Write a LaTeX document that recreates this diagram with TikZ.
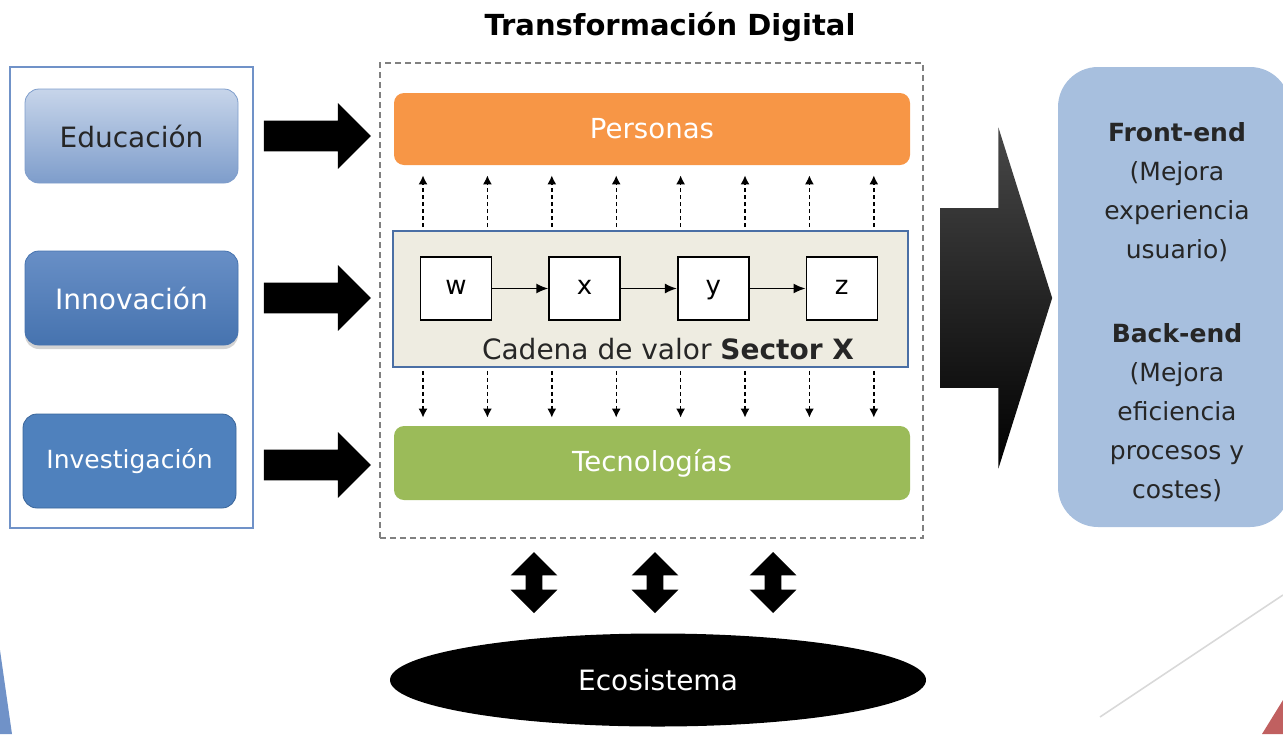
\documentclass[tikz,border=0pt]{standalone}
\usepackage{fontspec}
\setmainfont{DejaVu Sans}
\usepackage{xcolor}
\usepackage{tikz}
\usetikzlibrary{
  shapes.geometric,
  shapes.arrows,
  arrows.meta,
  positioning,
  shadows
}
\definecolor{PanelBlue}{RGB}{112, 146, 200}
\definecolor{EduTop}{RGB}{199, 213, 234}
\definecolor{EduBot}{RGB}{126, 157, 203}
\definecolor{InnoTop}{RGB}{104, 143, 198}
\definecolor{InnoBot}{RGB}{70, 115, 175}
\definecolor{InvBlue}{RGB}{79, 129, 189}
\definecolor{InvEdge}{RGB}{58, 101, 153}
\definecolor{PersOrange}{RGB}{247, 150, 70}
\definecolor{TecGreen}{RGB}{155, 187, 89}
\definecolor{ChainFill}{RGB}{238, 236, 225}
\definecolor{ChainEdge}{RGB}{74, 111, 165}
\definecolor{OutBlue}{RGB}{167, 191, 222}
\definecolor{SlideRed}{RGB}{192, 96, 96}
\tikzset{
  srcbox/.style={rectangle, rounded corners=7pt, minimum width=106.5pt, minimum height=47pt,
    inner sep=0pt, font=\fontsize{14}{16}\selectfont},
  bararrow/.style={single arrow, fill=black, inner xsep=0pt, inner ysep=7.5pt, minimum width=32.5pt,
    minimum height=53.5pt, single arrow head extend=8.75pt},
  layerbox/.style={rectangle, rounded corners=5pt, minimum width=258pt, text=white,
    font=\fontsize{13.8}{16}\selectfont},
  valbox/.style={draw=black, line width=0.8pt, fill=white, minimum width=35.5pt,
    minimum height=31.5pt, inner sep=0pt, text height=8pt, text depth=2.5pt,
    font=\fontsize{13}{15}\selectfont},
  dasharr/.style={line width=0.7pt, dash pattern=on 2pt off 1.5pt,
    -{Latex[length=4.5pt,width=4.5pt]}},
  dblarrow/.style={double arrow, fill=black, inner xsep=0pt, inner ysep=4pt, rotate=90,
    minimum height=30.5pt, minimum width=23pt, double arrow head extend=7.5pt}
}

\begin{document}
\begin{tikzpicture}[x=0.5pt, y=-0.5pt]
\useasboundingbox (0,0) rectangle (1283,734);

\fill[PanelBlue] (0,650) -- (12,734) -- (0,734) -- cycle;
\draw[black!15, line width=0.8pt] (1100,717) -- (1283,595);
\fill[SlideRed] (1262,734) -- (1283,700) -- (1283,734) -- cycle;

\node[font=\bfseries\fontsize{14.5}{17}\selectfont] (title) at (670,27) {Transformación Digital};

\node[draw=PanelBlue, line width=0.8pt, minimum width=121.5pt, minimum height=230.5pt] (panel) at (131.5,297.5) {};
\node[srcbox, draw=EduBot, top color=EduTop, bottom color=EduBot, text=black!85] (edu) at (131.5,136) {Educación};
\node[srcbox, draw=InnoBot, top color=InnoTop, bottom color=InnoBot, text=white,
  drop shadow={shadow xshift=0pt, shadow yshift=-2pt, opacity=0.35}] (inn) at (131.5,298) {Innovación};
\node[srcbox, draw=InvEdge, fill=InvBlue, text=white, font=\fontsize{12.5}{15}\selectfont] (inv) at (129.5,461) {Investigación};

\node[bararrow, right=12.5pt of edu] (arEdu) {};
\node[bararrow, right=12.5pt of inn] (arInn) {};
\node[bararrow, right=13.5pt of inv, yshift=-2pt] (arInv) {};

\node[draw=black!50, line width=0.6pt, dash pattern=on 3pt off 2pt, minimum width=271.5pt,
  minimum height=237.5pt] (frame) at (651.5,300.5) {};

\node[layerbox, fill=PersOrange, minimum height=36pt] (pers) at (652,129) {Personas};
\node[layerbox, fill=TecGreen, minimum height=37pt] (tec) at (652,463) {Tecnologías};
\node[draw=ChainEdge, line width=0.8pt, fill=ChainFill, minimum width=257.5pt, minimum height=68pt] (cad) at (650.5,299) {};

\node[valbox] (w) at (456,288.5) {w};
\node[valbox, right=28pt of w] (x) {x};
\node[valbox, right=28pt of x] (y) {y};
\node[valbox, right=28pt of y] (z) {z};
\foreach \a/\b in {w/x, x/y, y/z}
  \draw[line width=0.8pt, -{Latex[length=6pt,width=5pt]}] (\a) -- (\b);
\node[font=\fontsize{14}{16}\selectfont, text=black!85] (cadlbl) at (668,349) {Cadena de valor \textbf{Sector X}};

\foreach \i in {0,...,7} {
  \pgfmathsetmacro\xx{423+64.4*\i}
  \draw[dasharr, shorten <=1.5pt, shorten >=5pt] (\xx,0 |- cad.north) -- (\xx,0 |- pers.south);
  \draw[dasharr, shorten <=1.5pt, shorten >=4pt] (\xx,0 |- cad.south) -- (\xx,0 |- tec.north);
}

\node[single arrow, top color=black!72, bottom color=black, inner xsep=0pt, inner ysep=44.75pt,
  minimum width=170pt, minimum height=56pt, single arrow head extend=40.25pt,
  single arrow tip angle=145] (bigarr) at (982,298) {};

\node[fill=OutBlue, rounded corners=20pt, minimum width=116pt, minimum height=230pt] (outbox) at (1174,297) {};
\node[align=center, font=\fontsize{12.5}{19.5}\selectfont, text=black!85] (outtxt) at (1177,312.5)
  {\textbf{Front-end}\\(Mejora\\experiencia\\usuario)\\[22.5pt]\textbf{Back-end}\\(Mejora\\eficiencia\\procesos y\\costes)};

\foreach \dx/\nm in {534/da1, 655/da2, 773/da3}
  \node[dblarrow] (\nm) at (\dx,582.5) {};

\node[ellipse, fill=black, text=white, minimum width=268pt, minimum height=46.5pt,
  font=\fontsize{14}{16}\selectfont] (eco) at (658,680) {Ecosistema};
\end{tikzpicture}
\end{document}
